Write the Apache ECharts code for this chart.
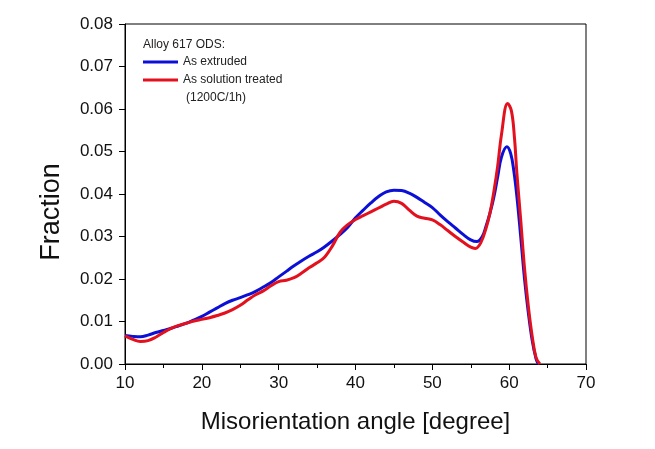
<!DOCTYPE html>
<html>
<head>
<meta charset="utf-8">
<script src="https://cdn.jsdelivr.net/npm/echarts@6/dist/echarts.min.js"></script>
<style>
  html, body { margin: 0; padding: 0; background: #fff; }
  #main { width: 655px; height: 449px; }
</style>
</head>
<body>
<div id="main"></div>
<script>
// misorientation angle (degree) -> fraction
var extrudedAngle = [10, 11, 12, 13, 14, 15, 16, 17, 18, 19, 20, 21, 22, 23, 24, 25, 26, 27, 28, 29,
  30, 31, 32, 33, 34, 35, 36, 37, 38, 39, 40, 41, 42, 43, 44, 45, 46, 47, 48, 49, 50, 51, 52, 53, 54, 55,
  55.8, 56.5, 57, 57.5, 58, 58.5, 59, 59.7, 60.2, 60.6, 61, 61.5, 62, 62.5, 63, 63.5, 63.8];
var extrudedFrac = [0.0067, 0.0065, 0.0064, 0.0068, 0.0074, 0.0079, 0.0084, 0.0090, 0.0096, 0.0104,
  0.0112, 0.0122, 0.0132, 0.0142, 0.0150, 0.0156, 0.0163, 0.0171, 0.0181, 0.0192,
  0.0205, 0.0218, 0.0231, 0.0243, 0.0254, 0.0264, 0.0276, 0.0290, 0.0305, 0.0322,
  0.0344, 0.0362, 0.0379, 0.0394, 0.0405, 0.0409, 0.0408, 0.0402, 0.0392, 0.0380,
  0.0368, 0.0351, 0.0335, 0.0320, 0.0305, 0.0292,
  0.0288, 0.0300, 0.0325, 0.0355, 0.0392, 0.0440, 0.0487, 0.0511, 0.0495, 0.0455,
  0.0395, 0.0300, 0.0200, 0.0120, 0.0055, 0.0012, 0.0];

var solutionAngle = [10, 11, 12, 13, 14, 15, 16, 17, 18, 19, 20, 21, 22, 23, 24, 25, 26, 27, 28, 29,
  30, 31, 32, 33, 34, 35, 36, 37, 38, 39, 40, 41, 42, 43, 44, 45, 46, 47, 48, 49, 50, 51, 52, 53, 54, 55,
  55.6, 56.3, 57, 57.5, 58, 58.5, 59, 59.8, 60.3, 60.7, 61, 61.5, 62, 62.5, 63, 63.5, 64];
var solutionFrac = [0.0066, 0.0058, 0.0053, 0.0055, 0.0063, 0.0074, 0.0084, 0.0091, 0.0096, 0.0101,
  0.0105, 0.0109, 0.0114, 0.0120, 0.0128, 0.0138, 0.0151, 0.0163, 0.0172, 0.0184,
  0.0194, 0.0197, 0.0203, 0.0214, 0.0227, 0.0238, 0.0252, 0.0278, 0.0310, 0.0328,
  0.0340, 0.0349, 0.0358, 0.0367, 0.0376, 0.0383, 0.0378, 0.0362, 0.0348, 0.0343,
  0.0339, 0.0328, 0.0314, 0.0300, 0.0287, 0.0275,
  0.0272, 0.0285, 0.0320, 0.0355, 0.0405, 0.0465, 0.0540, 0.0613, 0.0595, 0.0530,
  0.0450, 0.0340, 0.0225, 0.0135, 0.0065, 0.0015, 0.0];

var seriesNames = ["As extruded", "As solution treated"];
var seriesColors = ["#0c10d6", "#e3101e"];

function pairs(xs, ys) {
  var out = [];
  for (var i = 0; i < xs.length; i++) out.push([xs[i], ys[i]]);
  return out;
}

var myChart = echarts.init(document.getElementById("main"));
var font = "Liberation Sans, Arial, sans-serif";

var option = {
  backgroundColor: "#fff",
  animation: false,
  grid: {
    left: 125,
    right: 69,
    top: 24,
    bottom: 85,
    show: true,
    borderColor: "#000",
    borderWidth: 1
  },
  legend: {
    orient: "vertical",
    left: 143,
    top: 55,
    padding: 0,
    itemWidth: 35,
    itemHeight: 3,
    itemGap: 4,
    icon: "rect",
    textStyle: { fontFamily: font, fontSize: 12, color: "#222", lineHeight: 14 },
    data: seriesNames
  },
  graphic: [
    {
      type: "text",
      left: 143,
      top: 39,
      style: { text: "Alloy 617 ODS:", font: "12px " + font, fill: "#222" }
    },
    {
      type: "text",
      left: 186,
      top: 92,
      style: { text: "(1200C/1h)", font: "12px " + font, fill: "#222" }
    }
  ],
  xAxis: {
    type: "value",
    min: 10,
    max: 70,
    interval: 10,
    name: "Misorientation angle [degree]",
    nameLocation: "middle",
    nameGap: 46,
    nameTextStyle: { fontFamily: font, fontSize: 24, color: "#111" },
    axisLine: { show: true, lineStyle: { color: "#000", width: 1 } },
    axisTick: { show: true, inside: false, length: 6, lineStyle: { color: "#000" } },
    minorTick: { show: true, splitNumber: 2, length: 4, lineStyle: { color: "#000" } },
    axisLabel: { fontFamily: font, fontSize: 17, color: "#111", margin: 11 },
    splitLine: { show: false }
  },
  yAxis: {
    type: "value",
    min: 0,
    max: 0.08,
    interval: 0.01,
    name: "Fraction",
    nameLocation: "middle",
    nameGap: 60,
    nameTextStyle: { fontFamily: font, fontSize: 27, color: "#111", padding: [0, 36, 0, 0] },
    axisLine: { show: true, lineStyle: { color: "#000", width: 1 } },
    axisTick: { show: true, inside: false, length: 6, lineStyle: { color: "#000" } },
    axisLabel: {
      fontFamily: font,
      fontSize: 17,
      color: "#111",
      margin: 12,
      formatter: function (v) { return v.toFixed(2); }
    },
    splitLine: { show: false }
  },
  series: [
    {
      name: seriesNames[0],
      type: "line",
      smooth: 0.4,
      showSymbol: false,
      symbol: "none",
      color: seriesColors[0],
      lineStyle: { width: 3, color: seriesColors[0] },
      data: pairs(extrudedAngle, extrudedFrac),
      z: 2
    },
    {
      name: seriesNames[1],
      type: "line",
      smooth: 0.4,
      showSymbol: false,
      symbol: "none",
      color: seriesColors[1],
      lineStyle: { width: 3, color: seriesColors[1] },
      data: pairs(solutionAngle, solutionFrac),
      z: 3
    }
  ]
};

myChart.setOption(option);
</script>
</body>
</html>
